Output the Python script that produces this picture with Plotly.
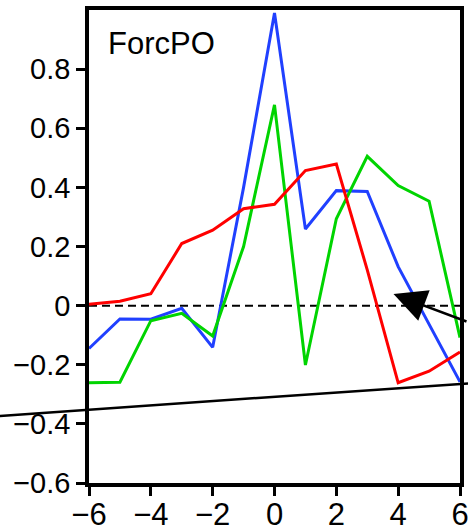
import plotly.graph_objects as go

# ---- data ----
lags = [-6, -5, -4, -3, -2, -1, 0, 1, 2, 3, 4, 5, 6]
blue_vals = [-0.145, -0.045, -0.046, -0.009, -0.141, 0.40, 0.99, 0.259, 0.389, 0.386, 0.132, -0.065, -0.258]
green_vals = [-0.261, -0.259, -0.051, -0.026, -0.103, 0.20, 0.679, -0.201, 0.294, 0.505, 0.406, 0.353, -0.108]
red_vals = [0.005, 0.015, 0.04, 0.21, 0.255, 0.328, 0.343, 0.457, 0.479, 0.121, -0.261, -0.222, -0.157]

x_tickvals = [-6, -4, -2, 0, 2, 4, 6]
x_ticktext = ["\u22126", "\u22124", "\u22122", "0", "2", "4", "6"]
y_tickvals = [-0.6, -0.4, -0.2, 0, 0.2, 0.4, 0.6, 0.8]
y_ticktext = ["\u22120.6", "\u22120.4", "\u22120.2", "0", "0.2", "0.4", "0.6", "0.8"]

panel_label = "ForcPO"

x_range = [-6, 6]
y_range = [-0.6, 1.0]

# sloping reference line (data units, extends beyond the axes)
ref_line_x = [-8.88, 6.26]
ref_line_y = [-0.373, -0.263]

# arrow tip (data units)
arrow_tip = (3.85, 0.039)

FONT = "Liberation Sans, Arial, sans-serif"


def to_paper_x(v):
    return (v - x_range[0]) / (x_range[1] - x_range[0])


def to_paper_y(v):
    return (v - y_range[0]) / (y_range[1] - y_range[0])


fig = go.Figure()

# zero dashed line
fig.add_trace(go.Scatter(x=[x_range[0], x_range[1]], y=[0, 0], mode="lines",
                         line=dict(color="black", width=2, dash="8px,5px"),
                         showlegend=False, hoverinfo="skip"))

fig.add_trace(go.Scatter(x=lags, y=blue_vals, mode="lines",
                         line=dict(color="#2040ff", width=3), showlegend=False))
fig.add_trace(go.Scatter(x=lags, y=green_vals, mode="lines",
                         line=dict(color="#00d400", width=3), showlegend=False))
fig.add_trace(go.Scatter(x=lags, y=red_vals, mode="lines",
                         line=dict(color="#ff0000", width=3), showlegend=False))

fig.add_shape(type="line", xref="paper", yref="paper",
              x0=to_paper_x(ref_line_x[0]), y0=to_paper_y(ref_line_y[0]),
              x1=to_paper_x(ref_line_x[1]), y1=to_paper_y(ref_line_y[1]),
              line=dict(color="black", width=2.5))

fig.add_annotation(x=arrow_tip[0], y=arrow_tip[1], xref="x", yref="y",
                   ax=110, ay=28, axref="pixel", ayref="pixel",
                   showarrow=True, arrowhead=2, arrowsize=2.6, arrowwidth=2.5,
                   arrowcolor="black", text="")

fig.add_annotation(x=0.045, y=0.93, xref="paper", yref="paper",
                   xanchor="left", yanchor="middle", showarrow=False,
                   text=panel_label, font=dict(family=FONT, size=31, color="black"))

axis_common = dict(showline=True, linecolor="black", linewidth=3.5, mirror=True,
                   ticks="outside", ticklen=9, tickwidth=3, tickcolor="black",
                   showgrid=False, zeroline=False, automargin=False,
                   ticklabeloverflow="allow")

fig.update_xaxes(range=x_range, tickvals=x_tickvals, ticktext=x_ticktext,
                 tickfont=dict(family=FONT, size=31, color="black"),
                 ticklabelstandoff=-8, **axis_common)
fig.update_yaxes(range=y_range, tickvals=y_tickvals, ticktext=y_ticktext,
                 tickfont=dict(family=FONT, size=29, color="black"), **axis_common)

fig.update_layout(width=468, height=531,
                  margin=dict(l=89, r=8, t=10, b=48),
                  paper_bgcolor="white", plot_bgcolor="white")

# remove the default page margin so the figure fills the window exactly
fig.write_html("out.html",
               config={"displayModeBar": False},
               post_script="document.body.style.margin='0';document.body.style.overflow='hidden';")
